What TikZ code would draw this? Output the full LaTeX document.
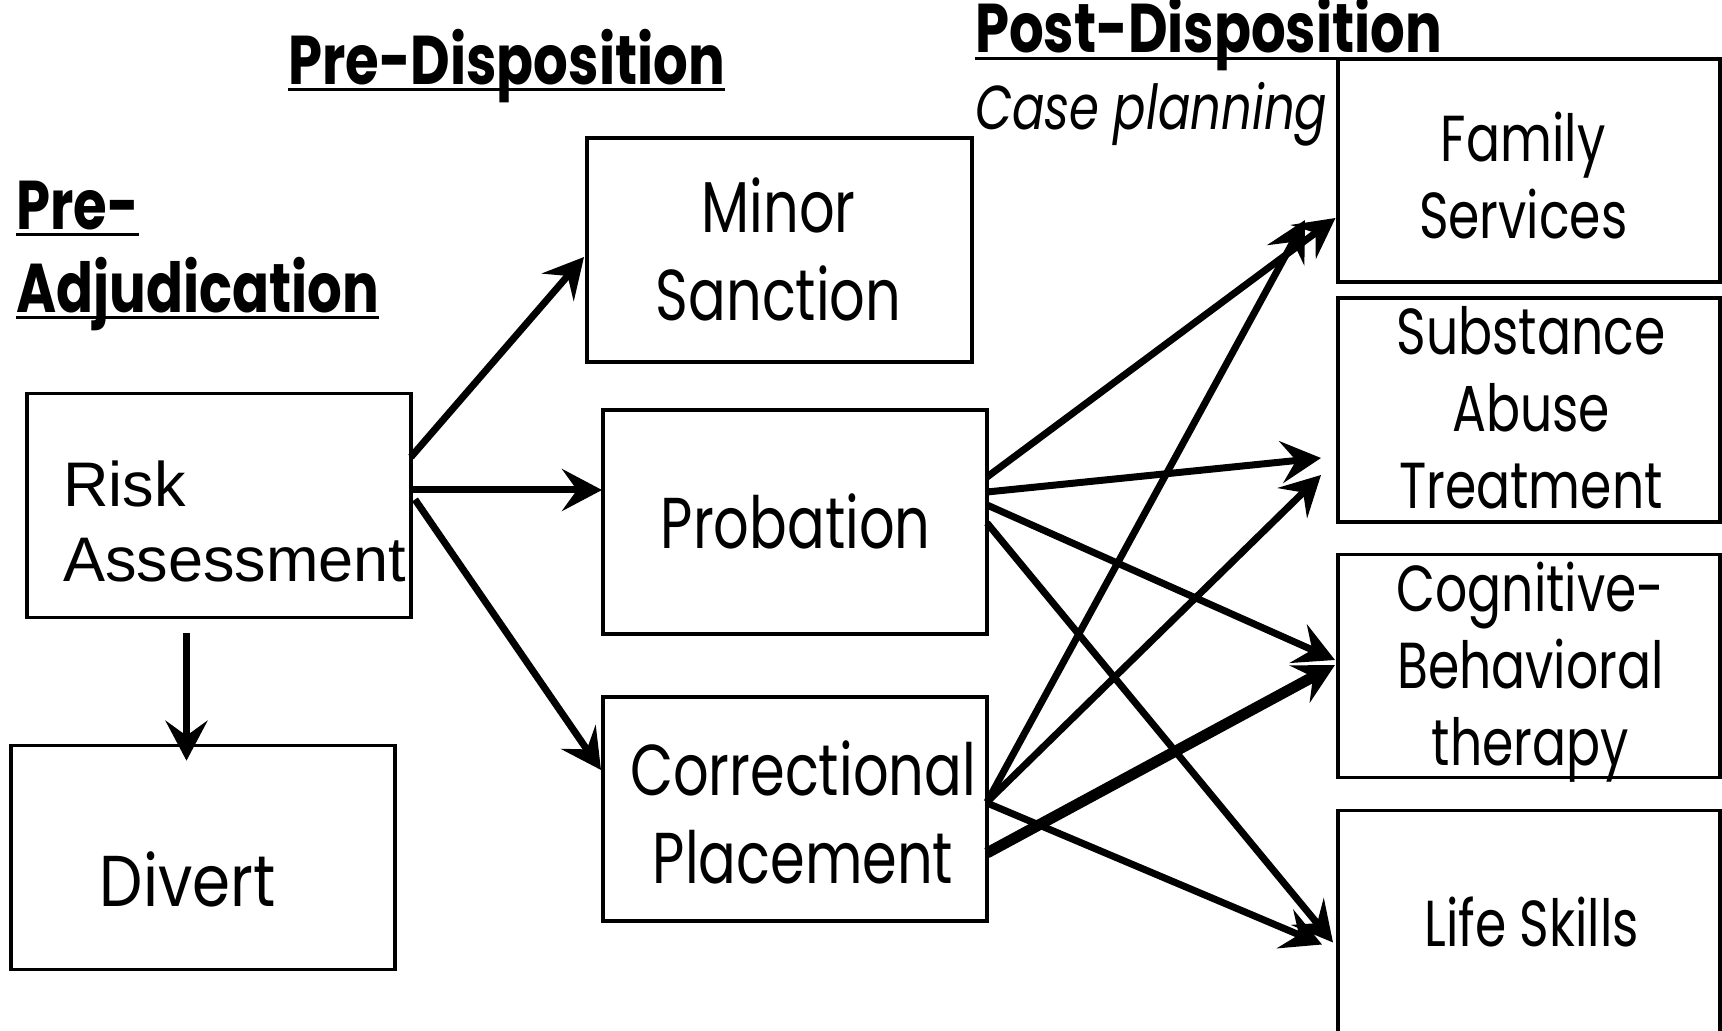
\documentclass[tikz,border=0pt]{standalone}
\usepackage{fontspec}
\usetikzlibrary{arrows.meta,calc}
\newfontfamily\gfont[FakeStretch=0.775]{Poppins}
\newfontfamily\gwfont[FakeStretch=0.85]{Poppins}
\newfontfamily\gmfont[FakeStretch=0.81]{Poppins}
\newfontfamily\gbfont[FakeStretch=0.79]{Poppins}
\newfontfamily\afont{Liberation Sans}
\newcommand\ulbar[2]{\setbox0\hbox{#2}\rlap{\rule[-#1]{\wd0}{3pt}}\box0}
\begin{document}
\begin{tikzpicture}[x=1pt,y=1pt,
  box/.style={draw, line width=3.5pt, minimum width=384pt, minimum height=222pt, inner sep=0pt, outer sep=0pt},
  ltxt/.style={inner sep=0pt, anchor=base, align=center, font=\gfont\fontsize{72}{88}\selectfont},
  rtxt/.style={inner sep=0pt, anchor=base, align=center, font=\gfont\fontsize{65}{77}\selectfont},
  arr/.style={line width=7pt, -{Stealth[length=40pt,width=42pt,inset=15pt]}},
  thickarr/.style={arr, line width=11pt},
  hdr/.style={font=\gbfont\bfseries\fontsize{69}{83}\selectfont, inner sep=0pt, anchor=base west, align=left},
  txt/.style={inner sep=0pt, anchor=base west, align=left},
]
\useasboundingbox (0,0) rectangle (1722,1031);
\clip (0,0) rectangle (1722,1031);
% headers
\node[hdr] (predisp) at (288,946) {\ulbar{6pt}{Pre-Disposition}};
\node[hdr] (postdisp) at (975,978) {\ulbar{7pt}{Post-Disposition}};
\node[txt, font=\gfont\itshape\fontsize{62}{70}\selectfont] (casepl) at (975,901) {Case planning};
\node[hdr] (preadj) at (16,718) {\ulbar{6pt}{Pre-}\\\ulbar{6pt}{Adjudication}};
% boxes
\node[box, minimum height=224pt] (risk) at (219,525.5) {};
\node[box, minimum height=224pt] (divert) at (203,173.3) {};
\node[box, minimum width=385pt, minimum height=224pt] (minor) at (779.5,781) {};
\node[box, minimum height=224pt] (prob) at (795,509) {};
\node[box, minimum height=224pt] (corr) at (795,222) {};
\node[box, minimum width=382pt, minimum height=223pt] (fam) at (1529,860.5) {};
\node[box, minimum width=382pt, minimum height=224pt] (sub) at (1529,621) {};
\node[box, minimum width=382pt, minimum height=223pt] (cog) at (1529,365) {};
\node[box, minimum width=382pt, minimum height=240pt] (life) at (1529,100.5) {};
% box texts
\node[txt, font=\afont\fontsize{63}{75}\selectfont] (risktext) at (63,449) {Risk\\Assessment};
\node[ltxt, font=\gwfont\fontsize{72}{88}\selectfont] (diverttext) at (187.8,124) {Divert};
\node[ltxt] (minortext) at (778.6,710) {Minor\\Sanction};
\node[ltxt] (probtext) at (795.6,482) {Probation};
\node[ltxt] (corrtext) at (803,147) {Correctional\\Placement};
\node[rtxt] (famtext) at (1523.2,792) {Family\\Services};
\node[rtxt] (subtext) at (1531,522.5) {Substance\\Abuse\\Treatment};
\node[rtxt] (cogtext) at (1530.5,265.6) {Cognitive-\\Behavioral\\therapy};
\node[rtxt] (lifetext) at (1531.5,84.4) {Life Skills};
% connectors
\draw[arr] ($(risk.east)+(0,48.5)$) -- ($(minor.west)+(-3,-7)$);
\draw[arr] ($(risk.east)+(0,15.5)$) -- ($(prob.west)+(-1,32)$);
\draw[arr] ($(risk.east)+(4,6)$) -- ($(corr.west)+(-2,39)$);
\draw[arr] ($(risk.south)+(-32.5,-15.5)$) -- ($(divert.north)+(-16.5,-15)$);
\draw[arr] ($(prob.east)+(0,45)$) -- ($(fam.west)+(-2.5,-47.5)$);
\draw[arr] ($(prob.east)+(0,30)$) -- ($(sub.west)+(-17,-48)$);
\draw[arr] ($(prob.east)+(0,17)$) -- ($(cog.west)+(-3,6)$);
\draw[arr] ($(prob.east)+(0,-1)$) -- ($(life.west)+(-5,-12)$);
\draw[arr] ($(corr.east)+(0,7)$) -- ($(fam.west)+(-33,-49.5)$);
\draw[arr] ($(corr.east)+(0,7)$) -- ($(sub.west)+(-17,-65)$);
\draw[thickarr] ($(corr.east)+(0,-44)$) -- ($(cog.west)+(-3,1)$);
\draw[arr] ($(corr.east)+(0,6)$) -- ($(life.west)+(-16,-14)$);
\end{tikzpicture}
\end{document}
